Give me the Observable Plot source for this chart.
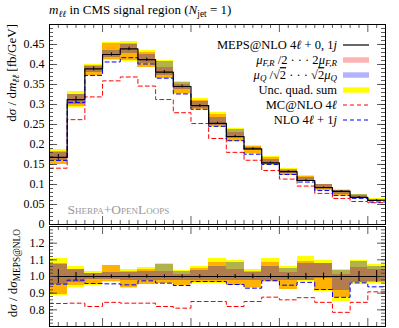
<!DOCTYPE html>
<html>
<head>
<meta charset="utf-8">
<script src="https://cdn.jsdelivr.net/npm/d3@7"></script>
<script src="https://cdn.jsdelivr.net/npm/@observablehq/plot@0.6"></script>
<style>
  body { margin: 0; background: #fff; }
  #chart { position: relative; width: 399px; height: 328px; overflow: hidden; font-family: "Liberation Serif", serif; }
</style>
</head>
<body>
<div id="chart"></div>
<script>
// ---------------- data ----------------
const binEdges = [20, 30, 40, 50, 60, 70, 80, 90, 100, 110, 120, 130, 140, 150, 160, 170, 180, 190, 200, 210];
// MEPS@NLO 4l+0,1j  dσ/dm_ll [fb/GeV]
const mepsXsec = [0.168, 0.312, 0.389, 0.425, 0.439, 0.412, 0.381, 0.345, 0.297, 0.253, 0.220, 0.189, 0.154, 0.132, 0.110, 0.092, 0.083, 0.068, 0.060];
// statistical error, relative
const mepsStat = [0.042, 0.024, 0.013, 0.010, 0.010, 0.010, 0.010, 0.010, 0.011, 0.011, 0.012, 0.014, 0.015, 0.017, 0.019, 0.021, 0.024, 0.030, 0.036];
// ratios to MEPS@NLO
const mcnloRatio = [0.838, 0.840, 0.820, 0.845, 0.840, 0.840, 0.820, 0.810, 0.850, 0.850, 0.820, 0.850, 0.876, 0.860, 0.873, 0.845, 0.785, 0.845, 0.908];
const nloRatio   = [0.954, 0.978, 0.958, 0.956, 0.950, 0.974, 0.960, 0.946, 0.970, 0.970, 0.952, 0.930, 0.975, 0.948, 0.965, 0.922, 0.875, 0.962, 0.938];
// μF,R variation band (ratio)
const scaleLo = [0.895, 0.945, 0.955, 0.970, 0.935, 0.955, 0.960, 0.947, 0.965, 0.965, 0.947, 0.933, 0.968, 0.925, 0.975, 0.918, 0.874, 0.964, 0.965];
const scaleHi = [1.080, 1.045, 1.020, 1.064, 1.030, 1.045, 1.030, 1.014, 1.047, 1.086, 1.044, 1.030, 1.085, 1.024, 1.090, 1.080, 1.014, 1.054, 1.040];
// μQ variation band (ratio)
const resumLo = [0.955, 0.965, 0.980, 0.980, 0.975, 0.975, 0.975, 0.975, 0.975, 0.975, 0.975, 0.975, 0.978, 0.975, 0.978, 0.990, 0.914, 0.964, 0.970];
const resumHi = [1.075, 1.040, 1.018, 1.025, 1.025, 1.030, 1.070, 1.030, 1.035, 1.060, 1.084, 1.025, 1.060, 1.050, 1.078, 1.078, 1.038, 1.090, 1.060];
// quadrature sum band (ratio)
const quadLo = [0.886, 0.935, 0.948, 0.965, 0.928, 0.950, 0.958, 0.945, 0.960, 0.960, 0.945, 0.930, 0.965, 0.920, 0.972, 0.912, 0.848, 0.955, 0.960];
const quadHi = [1.110, 1.063, 1.028, 1.068, 1.040, 1.055, 1.078, 1.038, 1.060, 1.106, 1.094, 1.040, 1.106, 1.058, 1.118, 1.094, 1.040, 1.098, 1.070];
// tick labels
const mainTickLabels = [0, 0.05, 0.1, 0.15, 0.2, 0.25, 0.3, 0.35, 0.4, 0.45];
const ratioTickLabels = [0.8, 0.9, 1.0, 1.1, 1.2];

// ---------------- styling ----------------
const W = 399, mL = 49, mR = 14;
const panelW = W - mL - mR;
const mainPanelH = 200, ratioPanelH = 100;
const YELLOW = "#ffff00", RED = "#ff0000", BLUE = "#0000ff";
const TICK = "#333";
const FONT = "'Liberation Serif', serif";

const bins = mepsXsec.map((v, i) => ({
  x1: binEdges[i], x2: binEdges[i + 1], xc: (binEdges[i] + binEdges[i + 1]) / 2, v,
  stat: mepsStat[i], mc: mcnloRatio[i], nlo: nloRatio[i],
  sLo: scaleLo[i], sHi: scaleHi[i], rLo: resumLo[i], rHi: resumHi[i], qLo: quadLo[i], qHi: quadHi[i]
}));
const step = f => binEdges.map((e, i) => ({x: e, y: f(bins[Math.min(i, bins.length - 1)])}));

const xMajor = d3.range(50, 201, 50);
const xMinor = d3.range(20, 211, 5).filter(d => d % 50 !== 0);

function yTickMarks(values, len) {
  return [
    Plot.tickY(values, {y: d => d, insetRight: panelW - len, stroke: TICK, strokeWidth: 0.8}),
    Plot.tickY(values, {y: d => d, insetLeft: panelW - len, stroke: TICK, strokeWidth: 0.8})
  ];
}
function xTickMarks(values, len, ph) {
  return [
    Plot.tickX(values, {x: d => d, insetBottom: ph - len, stroke: TICK, strokeWidth: 0.8}),
    Plot.tickX(values, {x: d => d, insetTop: ph - len, stroke: TICK, strokeWidth: 0.8})
  ];
}
function bands(f) {
  return [
    Plot.rect(bins, {x1: "x1", x2: "x2", y1: d => f(d) * d.qLo, y2: d => f(d) * d.qHi, fill: YELLOW, shapeRendering: "crispEdges"}),
    Plot.rect(bins, {x1: "x1", x2: "x2", y1: d => f(d) * d.sLo, y2: d => f(d) * d.sHi, fill: RED, fillOpacity: 0.3, shapeRendering: "crispEdges"}),
    Plot.rect(bins, {x1: "x1", x2: "x2", y1: d => f(d) * d.rLo, y2: d => f(d) * d.rHi, fill: BLUE, fillOpacity: 0.3, shapeRendering: "crispEdges"})
  ];
}

// ---------------- main panel ----------------
const main = Plot.plot({
  width: W, height: 225, marginTop: 24, marginBottom: 1, marginLeft: mL, marginRight: mR,
  style: `position:absolute;left:0;top:0;background:transparent;overflow:visible;font-family:${FONT};`,
  x: {domain: [20, 210], axis: null},
  y: {domain: [0, 0.5], axis: null},
  marks: [
    ...bands(d => d.v),
    Plot.line(step(d => d.v * d.mc), {x: "x", y: "y", curve: "step-after", stroke: RED, strokeWidth: 1, strokeDasharray: "4,3"}),
    Plot.line(step(d => d.v * d.nlo), {x: "x", y: "y", curve: "step-after", stroke: BLUE, strokeWidth: 1, strokeDasharray: "4,3"}),
    Plot.line(step(d => d.v), {x: "x", y: "y", curve: "step-after", stroke: "black", strokeWidth: 1.2}),
    Plot.ruleX(bins, {x: "xc", y1: d => d.v * (1 - d.stat), y2: d => d.v * (1 + d.stat), stroke: "black", strokeWidth: 1}),
    Plot.text(["Sherpa+OpenLoops"], {text: d => d, frameAnchor: "bottom-left", dx: 18, dy: -11, fontVariant: "small-caps", fill: "#999", fontSize: 13.5, fontFamily: FONT}),
    ...yTickMarks(d3.range(0, 0.501, 0.01), 4),
    ...yTickMarks(mainTickLabels, 8),
    ...xTickMarks(xMinor, 4, mainPanelH),
    ...xTickMarks(xMajor, 8, mainPanelH),
    Plot.axisY(mainTickLabels, {anchor: "left", label: null, tickSize: 0, tickPadding: 5, fontSize: 12, fontFamily: FONT, tickFormat: d => String(d)}),
    Plot.frame({stroke: "black", strokeWidth: 1})
  ]
});

// ---------------- ratio panel ----------------
const ratio = Plot.plot({
  width: W, height: 103, marginTop: 1, marginBottom: 2, marginLeft: mL, marginRight: mR,
  style: `position:absolute;left:0;top:225px;background:transparent;overflow:visible;font-family:${FONT};`,
  x: {domain: [20, 210], axis: null},
  y: {domain: [0.7, 1.3], axis: null},
  marks: [
    ...bands(() => 1),
    Plot.line(step(d => d.mc), {x: "x", y: "y", curve: "step-after", stroke: RED, strokeWidth: 1, strokeDasharray: "4,3"}),
    Plot.line(step(d => d.nlo), {x: "x", y: "y", curve: "step-after", stroke: BLUE, strokeWidth: 1, strokeDasharray: "4,3"}),
    Plot.ruleY([1], {stroke: "black", strokeWidth: 1.2}),
    Plot.ruleX(bins, {x: "xc", y1: d => 1 - d.stat, y2: d => 1 + d.stat, stroke: "black", strokeWidth: 1}),
    ...yTickMarks(d3.range(0.7, 1.301, 0.02), 4),
    ...yTickMarks(ratioTickLabels, 8),
    ...xTickMarks(xMinor, 4, ratioPanelH),
    ...xTickMarks(xMajor, 8, ratioPanelH),
    Plot.axisY(ratioTickLabels, {anchor: "left", label: null, tickSize: 0, tickPadding: 5, fontSize: 12, fontFamily: FONT, tickFormat: d3.format(".1f")}),
    Plot.frame({stroke: "black", strokeWidth: 1})
  ]
});

// ---------------- rich text helpers ----------------
function richText(sel, parts, size, anchor, shift = "-0.3em") {
  const t = sel.append("text").attr("font-family", FONT).attr("font-size", size)
    .attr("fill", "black").attr("text-anchor", anchor);
  for (const p of parts) {
    const ts = t.append("tspan").text(p.t);
    if (p.i) ts.attr("font-style", "italic");
    if (p.sub) ts.attr("font-size", "0.72em").attr("baseline-shift", shift);
    if (p.over) ts.attr("text-decoration", "overline");
  }
  return t;
}

const titleParts = [{t: "m", i: 1}, {t: "ℓℓ", i: 1, sub: 1}, {t: " in CMS signal region ("}, {t: "N", i: 1}, {t: "jet", sub: 1}, {t: " = 1)"}];
const yLabelParts = [{t: "d"}, {t: "σ", i: 1}, {t: " / d"}, {t: "m", i: 1}, {t: "ℓℓ", i: 1, sub: 1}, {t: " [fb/GeV]"}];
const ratioLabelParts = [{t: "d"}, {t: "σ", i: 1}, {t: " / d"}, {t: "σ", i: 1}, {t: "MEPS@NLO", sub: 1}];

const legendItems = [
  {parts: [{t: "MEPS@NLO 4"}, {t: "ℓ", i: 1}, {t: " + 0, 1"}, {t: "j", i: 1}], kind: "line", color: "black", dash: null},
  {parts: [{t: "μ", i: 1}, {t: "F,R", i: 1, sub: 1}, {t: " /2 · · · 2"}, {t: "μ", i: 1}, {t: "F,R", i: 1, sub: 1}], kind: "rect", color: "#ffb2b2"},
  {parts: [{t: "μ", i: 1}, {t: "Q", i: 1, sub: 1}, {t: " /√"}, {t: "2", over: 1}, {t: " · · · √"}, {t: "2", over: 1}, {t: "μ", i: 1}, {t: "Q", i: 1, sub: 1}], kind: "rect", color: "#b2b2ff"},
  {parts: [{t: "Unc. quad. sum"}], kind: "rect", color: YELLOW},
  {parts: [{t: "MC@NLO 4"}, {t: "ℓ", i: 1}], kind: "line", color: RED, dash: "4,3"},
  {parts: [{t: "NLO 4"}, {t: "ℓ", i: 1}, {t: " + 1"}, {t: "j", i: 1}], kind: "line", color: BLUE, dash: "4,3"}
];

const ms = d3.select(main);
richText(ms, titleParts, 13, "start").attr("x", 49).attr("y", 14);
richText(ms, yLabelParts, 13, "end").attr("transform", "translate(16,24) rotate(-90)");

const lg = ms.append("g");
legendItems.forEach((it, i) => {
  const y = 45 + 15 * i;
  richText(lg, it.parts, 12.5, "end", "-0.2em").attr("x", 337).attr("y", y).attr("dy", "0.33em");
  if (it.kind === "line") {
    lg.append("line").attr("x1", 343).attr("x2", 369).attr("y1", y).attr("y2", y)
      .attr("stroke", it.color).attr("stroke-width", 1.2).attr("stroke-dasharray", it.dash);
  } else {
    lg.append("rect").attr("x", 343).attr("width", 26).attr("y", y - 2.7).attr("height", 5.4).attr("fill", it.color);
  }
});

const rs = d3.select(ratio);
richText(rs, ratioLabelParts, 13, "end").attr("transform", "translate(16.5,4) rotate(-90)");

const chart = document.getElementById("chart");
chart.append(ratio);
chart.append(main);
</script>
</body>
</html>
